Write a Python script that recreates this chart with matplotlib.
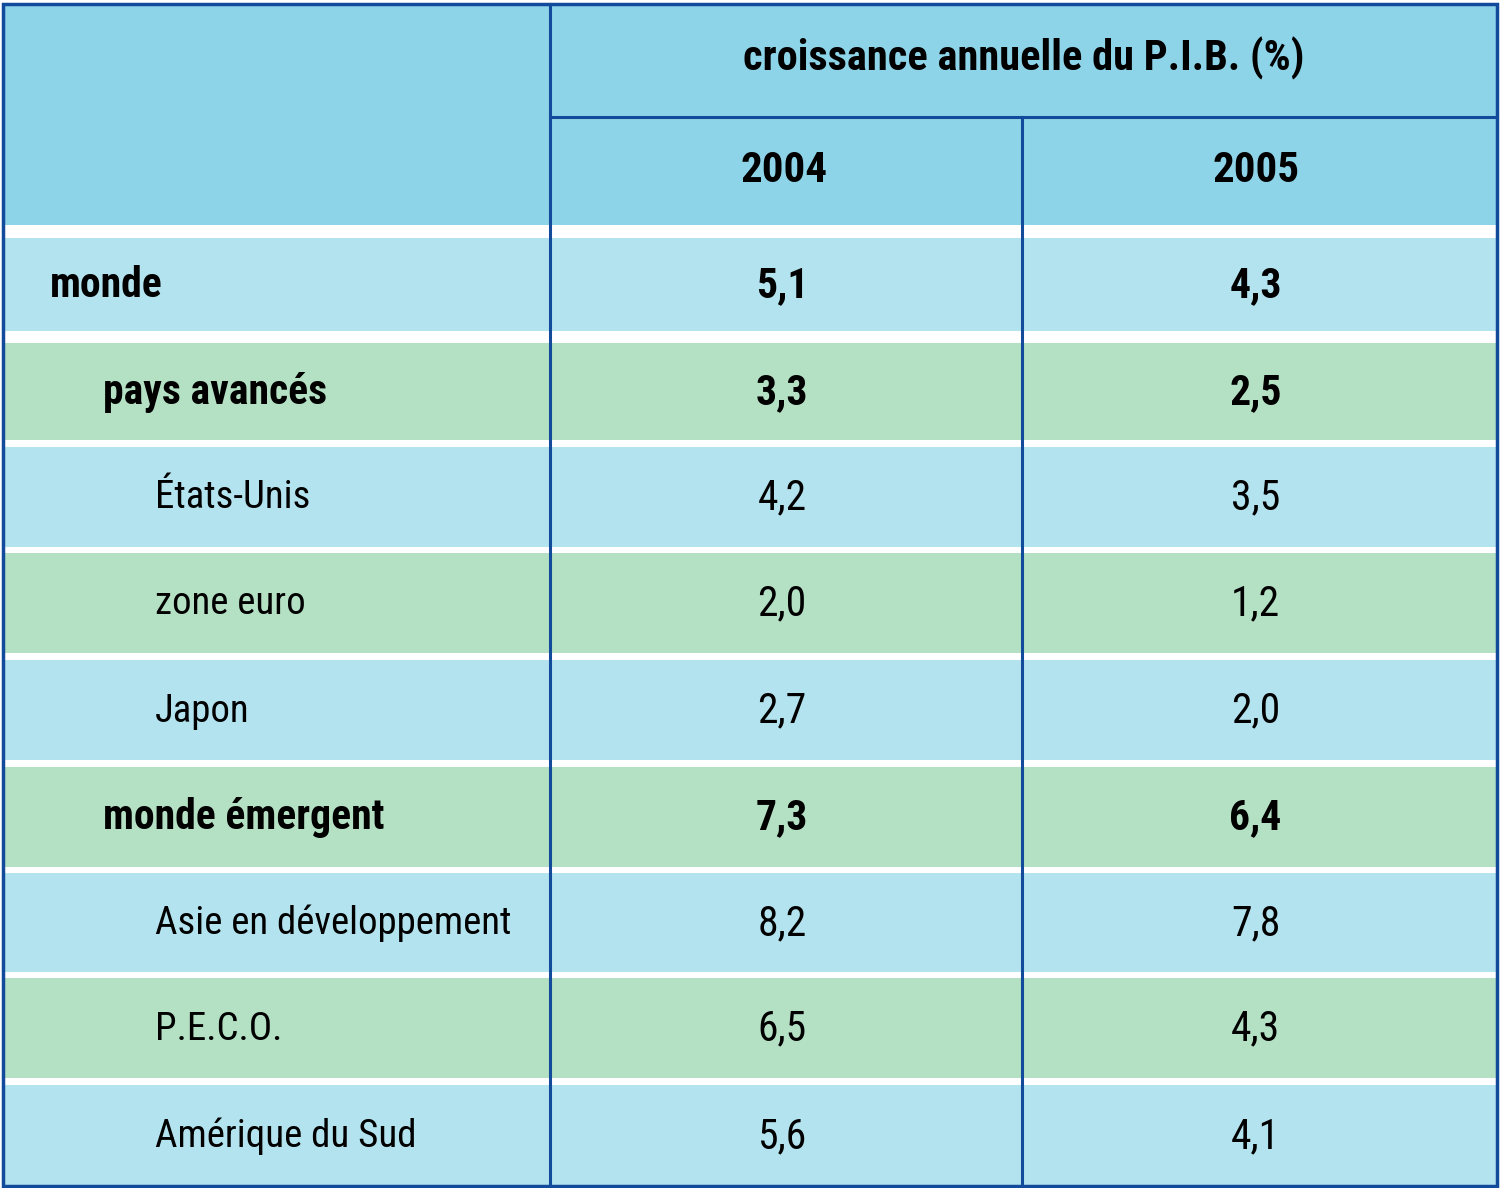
import matplotlib.pyplot as plt
from matplotlib.patches import Rectangle

# table content
title = "croissance annuelle du P.I.B. (%)"
years = ["2004", "2005"]
regions = ["monde", "pays avancés", "États-Unis", "zone euro", "Japon",
           "monde émergent", "Asie en développement", "P.E.C.O.", "Amérique du Sud"]
levels = [0, 1, 2, 2, 2, 1, 2, 2, 2]          # indent level
bold = [True, True, False, False, False, True, False, False, False]
v2004 = ["5,1", "3,3", "4,2", "2,0", "2,7", "7,3", "8,2", "6,5", "5,6"]
v2005 = ["4,3", "2,5", "3,5", "1,2", "2,0", "6,4", "7,8", "4,3", "4,1"]

header_bg = "#8dd4e8"
blue_row = "#b3e3ee"
green_row = "#b4e0c4"
line_col = "#124b9c"
fonts = ["Roboto Condensed", "Liberation Sans Narrow", "Roboto", "DejaVu Sans"]

W, H = 1500, 1188
fig = plt.figure(figsize=(W / 100, H / 100), dpi=100)
ax = fig.add_axes([0, 0, 1, 1])
ax.set_xlim(0, W)
ax.set_ylim(H, 0)
ax.axis("off")

left, right, top, bottom = 3, 1497, 4, 1186
col1, col2 = 550, 1022
head_mid, head_bot = 117, 225
# band edges (pixel rows) of the body, white gaps between them
row_top = [238, 343, 447, 553, 660, 767, 873, 978, 1085]
row_bot = [331, 440, 547, 653, 760, 867, 972, 1078, 1186]


def put(x, y, s, ha, weight, fs=30):
    ax.text(x, y, s, ha=ha, va="center", fontsize=fs, fontweight=weight,
            fontstretch="condensed", family=fonts, color="black")


# header
ax.add_patch(Rectangle((left, top), right - left, head_bot - top, color=header_bg, lw=0))
put((col1 + right) / 2, 58, title, "center", "bold", 30.5)
put((col1 + col2) / 2 - 2, 170, years[0], "center", "bold", 31)
put((col2 + right) / 2 - 3, 170, years[1], "center", "bold", 31)

# rows
indents = [50, 103, 155]
for i, name in enumerate(regions):
    y0, y1 = row_top[i], row_bot[i]
    ax.add_patch(Rectangle((left, y0), right - left, y1 - y0,
                           color=blue_row if i % 2 == 0 else green_row, lw=0))
    yc = (y0 + y1) / 2 + 1
    fw = "bold" if bold[i] else "normal"
    put(indents[levels[i]], yc, name, "left", fw, 30 if bold[i] else 28)
    put((col1 + col2) / 2 - 4, yc, v2004[i], "center", fw)
    put((col2 + right) / 2 - 4, yc, v2005[i], "center", fw)

# grid lines
ax.plot([col1, col1], [top, bottom], color=line_col, lw=2.2)
ax.plot([col2, col2], [head_mid, bottom], color=line_col, lw=2.2)
ax.plot([col1, right], [head_mid, head_mid], color=line_col, lw=2.2)
ax.add_patch(Rectangle((left, top), right - left, bottom - top, fill=False,
                       edgecolor=line_col, lw=2.5))

fig.savefig("out.png", dpi=100, facecolor="white")
